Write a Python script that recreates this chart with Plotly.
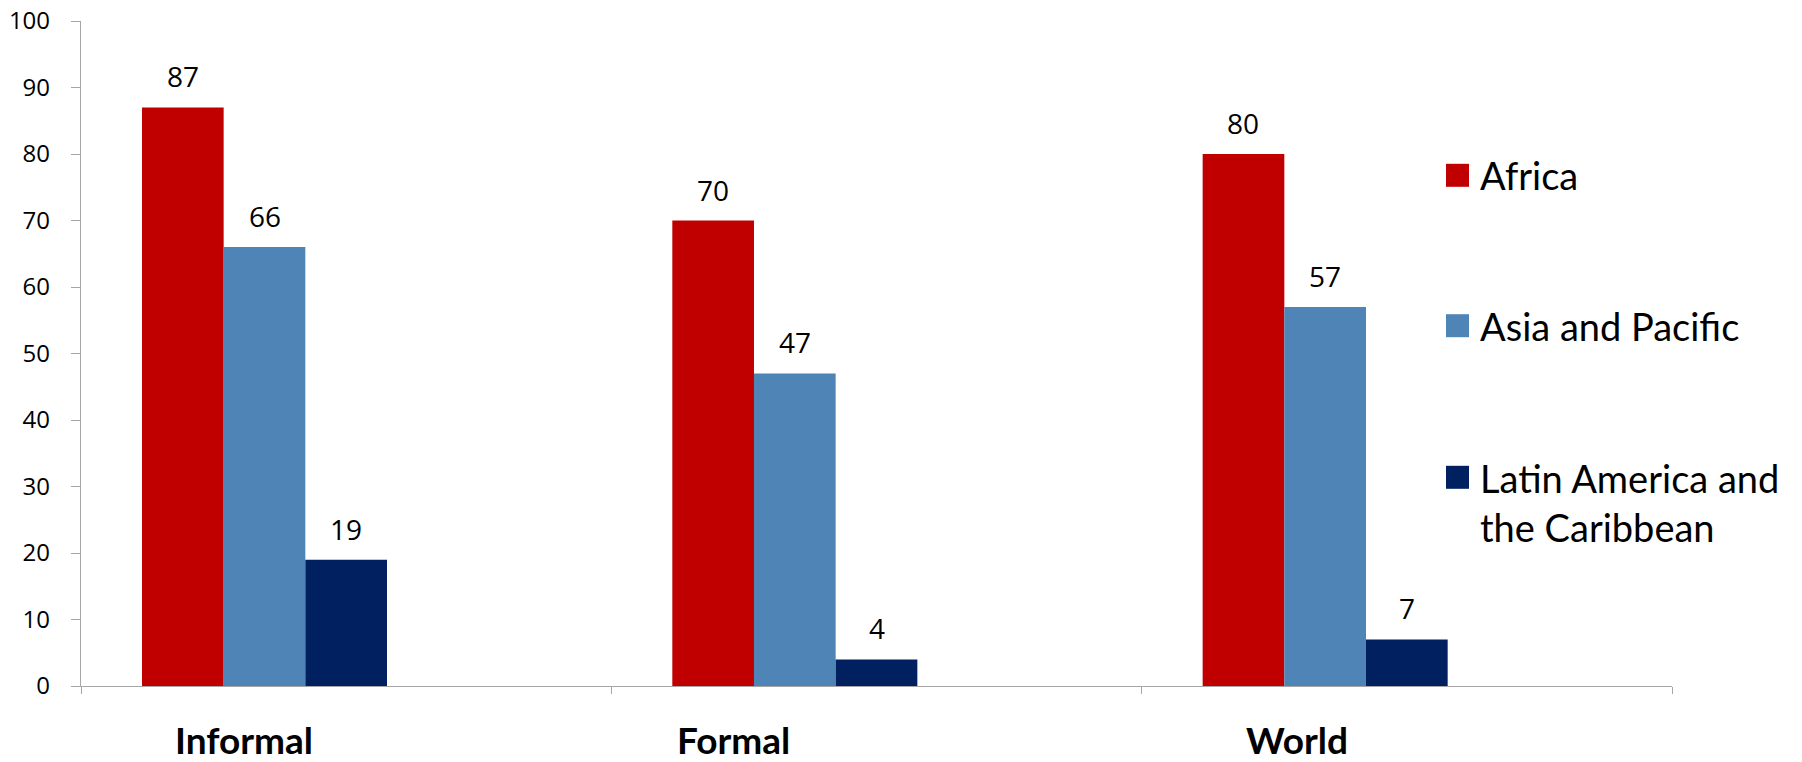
import plotly.graph_objects as go

# ---- data -------------------------------------------------------------
categories = ["Informal", "Formal", "World"]
series_names = ["Africa", "Asia and Pacific", "Latin America and the Caribbean"]
africa = [87, 70, 80]
asia_pacific = [66, 47, 57]
latin_america = [19, 4, 7]
legend_labels = ["Africa", "Asia and Pacific", "Latin America and<br>the Caribbean"]
y_ticks = [0, 10, 20, 30, 40, 50, 60, 70, 80, 90, 100]

series_values = [africa, asia_pacific, latin_america]
colors = ["#C00000", "#4F84B7", "#002060"]

# ---- layout constants (pixels) ----------------------------------------
W, H = 1802, 762
PL, PR, PT, PB = 81, 1672, 21, 686          # plot area edges
BAR_W = 0.154                               # bar width, category units
GROUP_START = -0.385                        # left edge of first bar vs. category centre

NUM_FONT = "Open Sans"
TXT_FONT = "Lato"


def xp(px):
    return (px - PL) / (PR - PL)


def yp(py):
    return (PB - py) / (PB - PT)


fig = go.Figure()

for k, (name, vals, col) in enumerate(zip(series_names, series_values, colors)):
    fig.add_trace(go.Bar(
        x=categories,
        y=vals,
        name=name,
        width=BAR_W,
        offset=GROUP_START + k * BAR_W,
        marker=dict(color=col, line=dict(width=0)),
        showlegend=False,
        hoverinfo="x+y+name",
    ))

annotations = []

# value labels above each bar
for k, vals in enumerate(series_values):
    for i, v in enumerate(vals):
        annotations.append(dict(
            x=i + GROUP_START + k * BAR_W + BAR_W / 2,
            y=v,
            xref="x", yref="y",
            text=str(v),
            showarrow=False,
            xanchor="center", yanchor="middle",
            yshift=31,
            font=dict(family=NUM_FONT, size=28, color="#000000"),
        ))

# category captions under the axis
caption_shift = [-0.193, -0.269, -0.207]
for i, (cat, sh) in enumerate(zip(categories, caption_shift)):
    annotations.append(dict(
        x=i + sh, y=yp(739),
        xref="x", yref="paper",
        text=f"<b>{cat}</b>",
        showarrow=False,
        height=30,
        xanchor="center", yanchor="middle",
        font=dict(family=TXT_FONT, size=37, color="#000000"),
    ))

# legend: coloured squares with text
legend_centres = [175.3, 325.7, 477.3]
SW = 23
shapes = []
for lbl, col, cy in zip(legend_labels, colors, legend_centres):
    shapes.append(dict(
        type="rect", xref="paper", yref="paper",
        x0=xp(1446), x1=xp(1446 + SW),
        y0=yp(cy - SW / 2), y1=yp(cy + SW / 2),
        fillcolor=col, line=dict(width=0),
    ))
    n_lines = lbl.count("<br>") + 1
    annotations.append(dict(
        x=xp(1478), y=yp(cy + (n_lines - 1) * 25.5),
        xref="paper", yref="paper",
        text=lbl,
        showarrow=False,
        align="left",
        xanchor="left", yanchor="middle",
        font=dict(family=TXT_FONT, size=38, color="#000000"),
    ))

fig.update_layout(
    width=W, height=H,
    margin=dict(l=PL, r=W - PR, t=PT, b=H - PB, pad=0, autoexpand=False),
    paper_bgcolor="#FFFFFF",
    plot_bgcolor="#FFFFFF",
    barmode="overlay",
    showlegend=False,
    annotations=annotations,
    shapes=shapes,
    xaxis=dict(
        type="category",
        range=[-0.5, len(categories) - 0.5],
        automargin=False,
        showticklabels=False,
        showgrid=False,
        zeroline=False,
        showline=True,
        linecolor="#A6A6A6",
        linewidth=1.3,
        ticks="outside",
        tickson="boundaries",
        ticklen=7,
        tickwidth=1.3,
        tickcolor="#A6A6A6",
    ),
    yaxis=dict(
        range=[0, 100],
        tickvals=y_ticks,
        automargin=False,
        showgrid=False,
        zeroline=False,
        showline=True,
        linecolor="#A6A6A6",
        linewidth=1.3,
        ticks="outside",
        ticklen=9,
        tickwidth=1.3,
        tickcolor="#A6A6A6",
        ticklabelstandoff=16,
        tickfont=dict(family=NUM_FONT, size=24, color="#000000"),
    ),
)

fig.write_html("out.html")
